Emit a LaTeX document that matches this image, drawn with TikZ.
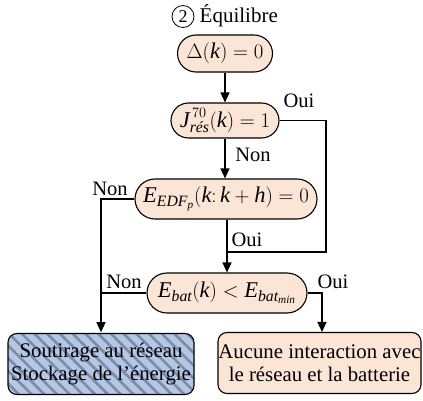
\documentclass[tikz,border=0pt]{standalone}
\usepackage{amsmath}
\usepackage{fontspec}
\setmainfont{Liberation Serif}
\usetikzlibrary{shapes.misc,arrows.meta,patterns.meta}
\newcommand\mi[1]{\textit{#1}}
\definecolor{peach}{HTML}{FBE5D6}
\definecolor{paleblue}{HTML}{B4C7E7}
\definecolor{hatch}{HTML}{7D8CA3}
\tikzset{
  decision/.style={rounded rectangle, draw, line width=1.1pt, fill=peach,
    inner sep=0pt, font=\fontsize{22.5}{25}\selectfont},
  outcome/.style={rectangle, rounded corners=9pt, draw, line width=1.1pt,
    inner sep=0pt, align=center, font=\fontsize{20.8}{23.5}\selectfont},
  lbl/.style={inner sep=0pt, font=\fontsize{20.5}{23}\selectfont},
  link/.style={line width=1.4pt},
  arr/.style={line width=1.4pt, -{Triangle[length=10pt,width=9pt]}},
}
\begin{document}
\begin{tikzpicture}[x=1pt,y=-1pt]
\useasboundingbox (0,0) rectangle (423,401);

% title: circled step number and step name
\node[circle, draw, line width=0.8pt, inner sep=0pt, minimum size=22pt,
  font=\fontsize{18}{20}\selectfont] (num) at (183,16.5) {2};
\node[lbl, anchor=west, font=\fontsize{21}{24}\selectfont] (title) at (199.5,15.5) {Équilibre};

% decision nodes
\node[decision, minimum width=95pt, minimum height=37pt] (d0) at (225,53.5) {$\Delta(\mi{k}) = 0$};
\node[decision, minimum width=108pt, minimum height=35pt] (j) at (225,120.5) {$\mi{J}^{\,70}_{\mi{rés}}(\mi{k}) = 1$};
\node[decision, minimum width=182pt, minimum height=40pt] (edf) at (226,199) {$\mi{E}_{\mi{EDF}_{\mi{p}}}(\mi{k}{:}\,\mi{k} + \mi{h}) = 0$};
\node[decision, minimum width=160pt, minimum height=40pt] (ebat) at (227,293) {$\mi{E}_{\mi{bat}}(\mi{k}) < \mi{E}_{\mi{bat}_{\mi{min}}}$};

% outcomes
\node[outcome, minimum width=186pt, minimum height=61pt,
  preaction={fill=paleblue},
  pattern={Lines[angle=-45, distance=9pt, line width=2.6pt]}, pattern color=hatch]
  (lb) at (101,364) {Soutirage au réseau\\Stockage de l’énergie};
\node[outcome, fill=peach, minimum width=203pt, minimum height=61pt]
  (rb) at (319.5,363) {Aucune interaction avec\\le réseau et la batterie};

% connector helpers
\coordinate (jr) at (326,252);
\coordinate (rx) at (322,293);

% connectors
\draw[arr] (d0.south) -- (d0.south -| j.south) -- (j.north);
\draw[arr] (j.south) -- (j.south |- edf.north);
\draw[link] (j.east) -| (jr) -- (jr -| ebat.north);
\draw[arr] (edf.south -| ebat.north) -- (ebat.north);
\draw[arr] (edf.west) -| (lb.north);
\draw[link] (ebat.west) -- (ebat.west -| lb.north);
\draw[arr] (ebat.east) -| (rx |- rb.north);

% branch labels
\node[lbl] (l1) at (299,101) {Oui};
\node[lbl] (l2) at (253,155) {Non};
\node[lbl] (l3) at (110,189) {Non};
\node[lbl] (l4) at (247,240) {Oui};
\node[lbl] (l5) at (124,282) {Non};
\node[lbl] (l6) at (333,282) {Oui};
\end{tikzpicture}
\end{document}
